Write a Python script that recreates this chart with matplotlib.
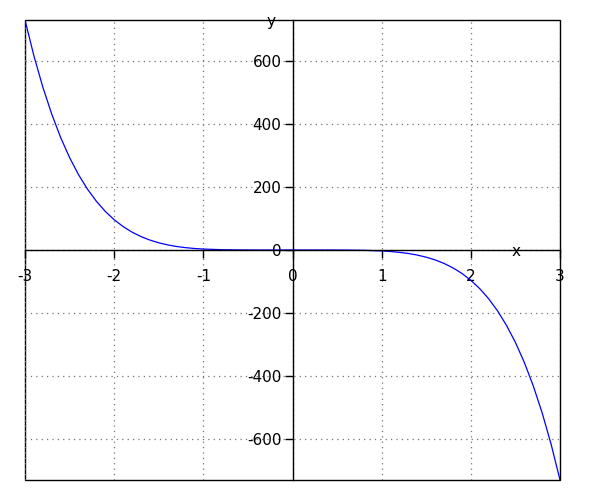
import matplotlib
matplotlib.use("Agg")
import matplotlib.pyplot as plt

plt.rcParams["axes.unicode_minus"] = False

# curve samples
xs = [-3.0, -2.9, -2.8, -2.7, -2.6, -2.5, -2.4, -2.3, -2.2, -2.1, -2.0,
      -1.9, -1.8, -1.7, -1.6, -1.5, -1.4, -1.3, -1.2, -1.1, -1.0,
      -0.8, -0.6, -0.4, -0.2, 0.0, 0.2, 0.4, 0.6, 0.8,
      1.0, 1.1, 1.2, 1.3, 1.4, 1.5, 1.6, 1.7, 1.8, 1.9,
      2.0, 2.1, 2.2, 2.3, 2.4, 2.5, 2.6, 2.7, 2.8, 2.9, 3.0]
ys = [729.0, 615.3, 516.3, 430.5, 356.4, 293.0, 238.9, 193.1, 154.6, 122.5, 96.0,
      74.3, 56.7, 42.6, 31.5, 22.8, 16.1, 11.1, 7.5, 4.8, 3.0,
      0.98, 0.23, 0.03, 0.0, 0.0, 0.0, -0.03, -0.23, -0.98,
      -3.0, -4.8, -7.5, -11.1, -16.1, -22.8, -31.5, -42.6, -56.7, -74.3,
      -96.0, -122.5, -154.6, -193.1, -238.9, -293.0, -356.4, -430.5, -516.3, -615.3, -729.0]
xticks = [-3, -2, -1, 0, 1, 2, 3]
yticks = [-600, -400, -200, 0, 200, 400, 600]

fig = plt.figure(figsize=(6, 5), dpi=100)
ax = fig.add_axes([25 / 600, 20 / 500, 535 / 600, 460 / 500])
ax.plot(xs, ys, color="#0000ff", lw=0.9)

ax.set_xlim(-3, 3)
ax.set_ylim(-729, 729)
ax.set_xticks(xticks)
ax.set_yticks(yticks)

# axes through the origin, plus a plain frame round the plot
ax.spines["left"].set_position("zero")
ax.spines["bottom"].set_position("zero")
ax.spines["top"].set_visible(False)
ax.spines["right"].set_visible(False)
ax.patch.set_edgecolor("black")
ax.patch.set_linewidth(1.0)
for sp in ("left", "bottom"):
    ax.spines[sp].set_linewidth(1.0)

ax.tick_params(direction="out", length=6, width=1, labelsize=11)
ax.tick_params(axis="x", pad=8)
ax.tick_params(axis="y", pad=2)
ax.grid(True, linestyle=(0, (1, 3.3)), color="0.45", linewidth=0.9)

ax.text(0.918, 0.497, "x", transform=ax.transAxes, fontsize=11,
        ha="center", va="center")
ax.text(0.459, 0.996, "y", transform=ax.transAxes, fontsize=11,
        ha="center", va="center")

fig.savefig("out.png", dpi=100)
